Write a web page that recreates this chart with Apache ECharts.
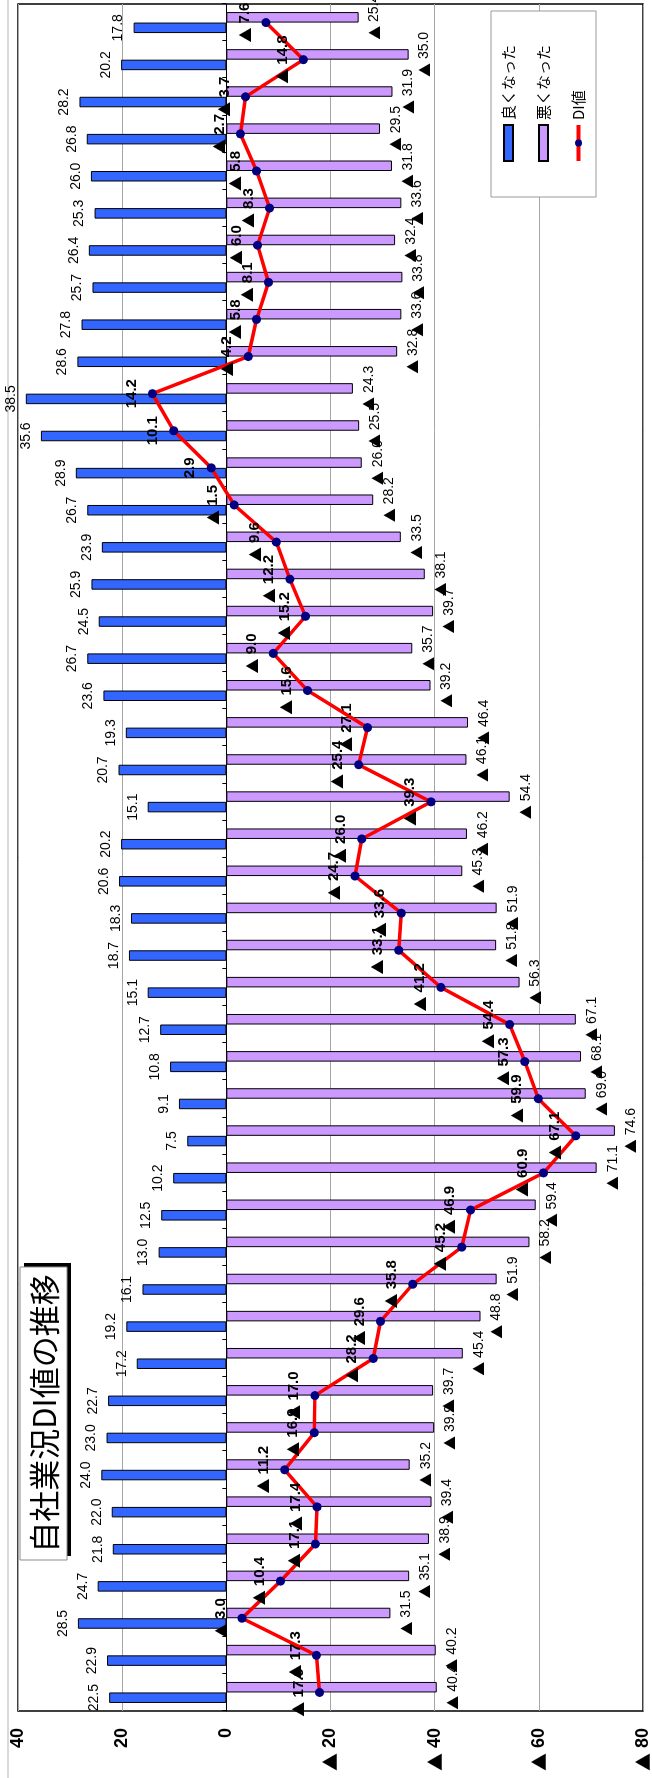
<!DOCTYPE html>
<html>
<head>
<meta charset="utf-8">
<title>自社業況DI値の推移</title>
<script src="https://cdn.jsdelivr.net/npm/echarts@6/dist/echarts.min.js"></script>
<style>
  html, body { margin: 0; padding: 0; background: #fff; overflow: hidden; }
  #page { position: relative; width: 652px; height: 1778px; overflow: hidden; background: #fff; }
  /* The chart is laid out landscape and turned a quarter turn to stand upright on the page */
  #chart { position: absolute; left: 0; top: 0; width: 1778px; height: 652px;
           transform-origin: 0 0; transform: translateY(1778px) rotate(-90deg); }
</style>
</head>
<body>
<div id="page"><div id="chart"></div></div>
<script>
// Survey rounds (oldest first)
const categories = ['1','2','3','4','5','6','7','8','9','10',
  '11','12','13','14','15','16','17','18','19','20',
  '21','22','23','24','25','26','27','28','29','30',
  '31','32','33','34','35','36','37','38','39','40',
  '41','42','43','44','45','46'];

// 良くなった (%)
const improved = [22.5, 22.9, 28.5, 24.7, 21.8, 22.0, 24.0, 23.0, 22.7, 17.2,
  19.2, 16.1, 13.0, 12.5, 10.2, 7.5, 9.1, 10.8, 12.7, 15.1,
  18.7, 18.3, 20.6, 20.2, 15.1, 20.7, 19.3, 23.6, 26.7, 24.5,
  25.9, 23.9, 26.7, 28.9, 35.6, 38.5, 28.6, 27.8, 25.7, 26.4,
  25.3, 26.0, 26.8, 28.2, 20.2, 17.8];

// 悪くなった (%)
const worsened = [40.4, 40.2, 31.5, 35.1, 38.9, 39.4, 35.2, 39.9, 39.7, 45.4,
  48.8, 51.9, 58.2, 59.4, 71.1, 74.6, 69.0, 68.1, 67.1, 56.3,
  51.8, 51.9, 45.3, 46.2, 54.4, 46.1, 46.4, 39.2, 35.7, 39.7,
  38.1, 33.5, 28.2, 26.0, 25.5, 24.3, 32.8, 33.6, 33.8, 32.4,
  33.6, 31.8, 29.5, 31.9, 35.0, 25.4];

// DI値 (良くなった − 悪くなった)
const diValues = [-17.9, -17.3, -3.0, -10.4, -17.1, -17.4, -11.2, -16.9, -17.0, -28.2,
  -29.6, -35.8, -45.2, -46.9, -60.9, -67.1, -59.9, -57.3, -54.4, -41.2,
  -33.1, -33.6, -24.7, -26.0, -39.3, -25.4, -27.1, -15.6, -9.0, -15.2,
  -12.2, -9.6, -1.5, 2.9, 10.1, 14.2, -4.2, -5.8, -8.1, -6.0,
  -8.3, -5.8, -2.7, -3.7, -14.8, -7.6];

// Value axis range and step
const axisMin = -80;
const axisMax = 40;
const axisStep = 20;

const seriesNames = ['良くなった', '悪くなった', 'DI値'];
const titleText = '自社業況DI値の推移';

const LATIN = '"Liberation Sans", Arial, sans-serif';
const CJK = '"Noto Sans CJK JP", sans-serif';

// negative numbers are written with a leading ▲
function markNeg(v, digits) {
  const s = digits == null ? String(Math.abs(v)) : Math.abs(v).toFixed(digits);
  return v < 0 ? '{t|▲} ' + s : s;
}

const chart = echarts.init(document.getElementById('chart'), null, { renderer: 'canvas' });

const W = 1778;
const gridLeft = 67, gridTop = 18, gridWidth = 1707, gridHeight = 633.5;

chart.setOption({
  animation: false,
  backgroundColor: '#fff',
  textStyle: { fontFamily: LATIN },
  grid: {
    left: gridLeft, top: gridTop, width: gridWidth, height: gridHeight,
    show: true, borderColor: '#000', borderWidth: 1.5, backgroundColor: 'transparent'
  },
  legend: {
    data: [
      { name: seriesNames[0], icon: 'rect' },
      { name: seriesNames[1], icon: 'rect' },
      { name: seriesNames[2] }
    ],
    orient: 'vertical',
    left: 1581, top: 491,
    padding: [10, 34, 10, 34],
    itemGap: 20,
    itemWidth: 36, itemHeight: 9,
    backgroundColor: '#fff',
    borderColor: '#999', borderWidth: 1, borderRadius: 0,
    lineStyle: { width: 4 },
    textStyle: { fontFamily: CJK, fontSize: 15, color: '#000' }
  },
  xAxis: {
    type: 'category',
    data: categories,
    axisLine: { onZero: true, lineStyle: { color: '#000', width: 1 } },
    axisTick: { show: true, inside: true, length: 4, lineStyle: { color: '#000' } },
    axisLabel: { show: false },
    splitLine: { show: false }
  },
  yAxis: {
    type: 'value',
    min: axisMin, max: axisMax, interval: axisStep,
    axisLine: { show: false },
    axisTick: { show: false },
    splitLine: { show: true, lineStyle: { color: '#a6a6a6', width: 1 } },
    axisLabel: {
      margin: 17,
      color: '#000', fontSize: 18, fontWeight: 'bold', fontFamily: LATIN,
      formatter: v => markNeg(v),
      rich: { t: { fontFamily: CJK, fontSize: 18, fontWeight: 'bold', color: '#000' } }
    }
  },
  series: [
    {
      name: seriesNames[0],
      type: 'bar',
      data: improved,
      barWidth: 10.5,
      barGap: '0%',
      itemStyle: { color: '#3366ff', borderColor: '#000', borderWidth: 1 },
      label: {
        show: true, position: 'outside', distance: 8,
        color: '#000', fontSize: 14, fontFamily: LATIN,
        formatter: p => p.value.toFixed(1)
      },
      z: 2
    },
    {
      name: seriesNames[1],
      type: 'bar',
      data: worsened.map(v => -v),
      barWidth: 10.5,
      barGap: '0%',
      itemStyle: { color: '#cc99ff', borderColor: '#000', borderWidth: 1 },
      label: {
        show: true, position: 'outside', distance: 9,
        color: '#000', fontSize: 14, fontFamily: LATIN,
        formatter: p => markNeg(p.value, 1),
        rich: { t: { fontFamily: CJK, fontSize: 14, color: '#000' } }
      },
      z: 2
    },
    {
      name: seriesNames[2],
      type: 'line',
      data: diValues,
      symbol: 'circle',
      symbolSize: 9,
      itemStyle: { color: '#000080' },
      lineStyle: { color: '#ff0000', width: 3.5 },
      label: {
        show: true, position: 'top', distance: 9,
        color: '#000', fontSize: 15, fontWeight: 'bold', fontFamily: LATIN,
        formatter: p => markNeg(p.value, 1),
        rich: { t: { fontFamily: CJK, fontSize: 15, fontWeight: 'bold', color: '#000' } }
      },
      z: 5
    }
  ],
  graphic: [
    // outer chart frame edge
    { type: 'line', shape: { x1: 0, y1: 8, x2: W, y2: 8 }, style: { stroke: '#b5b5b5', lineWidth: 1 }, silent: true },
    // title box with drop shadow
    { type: 'rect', shape: { x: 222, y: 24, width: 293, height: 47 }, style: { fill: '#000' }, z: 10, silent: true },
    { type: 'rect', shape: { x: 218, y: 20, width: 293, height: 47 }, style: { fill: '#fff', stroke: '#8c8c8c', lineWidth: 1 }, z: 11, silent: true },
    { type: 'text', x: 364.5, y: 44, z: 12, silent: true,
      style: { text: titleText, fill: '#000', font: '31px ' + CJK, align: 'center', verticalAlign: 'middle' } }
  ]
});
</script>
</body>
</html>
